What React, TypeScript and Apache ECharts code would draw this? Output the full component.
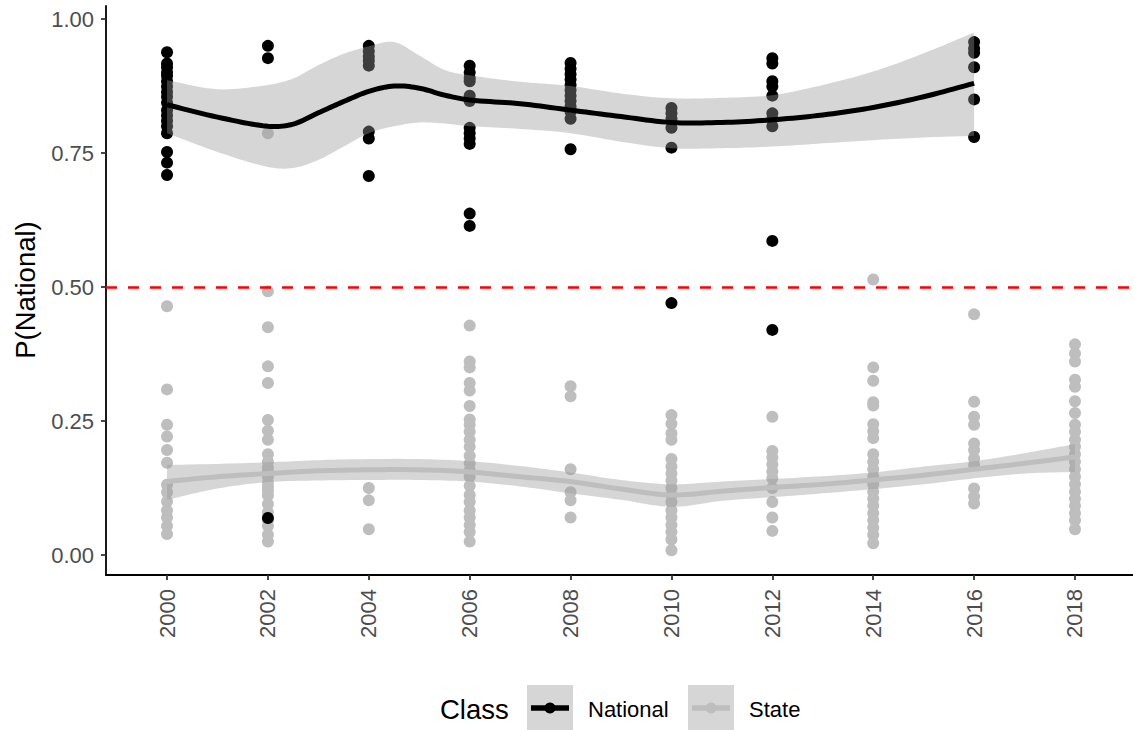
import React, { useEffect, useRef } from "react";
import * as echarts from "echarts";

const FONT = "Liberation Sans";

const years = [2000, 2002, 2004, 2006, 2008, 2010, 2012, 2014, 2016, 2018];
const yTicks = [0, 0.25, 0.5, 0.75, 1];

// National points per year (same order as years)
const nationalValues: number[][] = [
  [0.938, 0.917, 0.91, 0.9, 0.894, 0.884, 0.874, 0.864, 0.855, 0.844, 0.83, 0.82, 0.81, 0.8, 0.787, 0.752, 0.732, 0.709],
  [0.95, 0.927, 0.069],
  [0.95, 0.94, 0.93, 0.922, 0.913, 0.79, 0.777, 0.707],
  [0.913, 0.9, 0.89, 0.884, 0.857, 0.847, 0.797, 0.787, 0.777, 0.767, 0.637, 0.614],
  [0.918, 0.907, 0.897, 0.887, 0.877, 0.867, 0.857, 0.847, 0.837, 0.827, 0.814, 0.757],
  [0.834, 0.824, 0.814, 0.797, 0.76, 0.47],
  [0.927, 0.917, 0.884, 0.874, 0.857, 0.824, 0.814, 0.8, 0.586, 0.42],
  [],
  [0.957, 0.945, 0.937, 0.91, 0.85, 0.78],
  [],
];

// State points per year (same order as years)
const stateValues: number[][] = [
  [0.464, 0.309, 0.243, 0.221, 0.196, 0.172, 0.131, 0.117, 0.1, 0.083, 0.07, 0.054, 0.039],
  [0.787, 0.492, 0.425, 0.352, 0.321, 0.252, 0.232, 0.215, 0.188, 0.174, 0.163, 0.155, 0.146, 0.135, 0.127, 0.12, 0.111, 0.095, 0.08, 0.065, 0.054, 0.038, 0.025],
  [0.125, 0.102, 0.048],
  [0.428, 0.361, 0.35, 0.321, 0.307, 0.278, 0.253, 0.243, 0.23, 0.215, 0.202, 0.185, 0.171, 0.158, 0.146, 0.129, 0.112, 0.099, 0.083, 0.07, 0.056, 0.043, 0.025],
  [0.315, 0.296, 0.16, 0.117, 0.102, 0.07],
  [0.261, 0.245, 0.227, 0.215, 0.179, 0.165, 0.152, 0.139, 0.125, 0.112, 0.099, 0.083, 0.07, 0.056, 0.043, 0.029, 0.009],
  [0.258, 0.194, 0.182, 0.169, 0.156, 0.143, 0.125, 0.099, 0.07, 0.045],
  [0.514, 0.35, 0.325, 0.285, 0.279, 0.244, 0.231, 0.218, 0.188, 0.174, 0.16, 0.146, 0.132, 0.118, 0.105, 0.092, 0.078, 0.065, 0.051, 0.038, 0.022],
  [0.449, 0.286, 0.258, 0.243, 0.208, 0.196, 0.18, 0.168, 0.124, 0.109, 0.096],
  [0.393, 0.376, 0.361, 0.327, 0.314, 0.287, 0.265, 0.243, 0.23, 0.215, 0.202, 0.188, 0.174, 0.16, 0.146, 0.132, 0.118, 0.105, 0.092, 0.078, 0.065, 0.048],
];

// National loess fit and confidence band
const natX = [2000, 2001, 2002, 2002.5, 2003, 2003.5, 2004, 2004.5, 2005, 2005.5, 2006, 2007, 2008, 2009, 2010, 2011, 2012, 2013, 2014, 2015, 2016];
const natFit = [0.84, 0.817, 0.8, 0.804, 0.825, 0.846, 0.865, 0.875, 0.871, 0.858, 0.849, 0.842, 0.83, 0.818, 0.807, 0.807, 0.812, 0.821, 0.835, 0.855, 0.88];
const natHi = [0.886, 0.869, 0.877, 0.889, 0.914, 0.935, 0.949, 0.957, 0.932, 0.905, 0.895, 0.883, 0.875, 0.861, 0.852, 0.853, 0.858, 0.877, 0.902, 0.936, 0.975];
const natLo = [0.787, 0.752, 0.724, 0.722, 0.737, 0.762, 0.787, 0.8, 0.807, 0.805, 0.8, 0.795, 0.787, 0.771, 0.759, 0.759, 0.762, 0.768, 0.774, 0.779, 0.782];

// State loess fit and confidence band
const stX = [2000, 2001, 2002, 2003, 2004, 2005, 2006, 2007, 2008, 2009, 2010, 2011, 2012, 2013, 2014, 2015, 2016, 2017, 2018];
const stFit = [0.137, 0.146, 0.152, 0.157, 0.159, 0.159, 0.155, 0.146, 0.137, 0.123, 0.112, 0.119, 0.126, 0.132, 0.14, 0.149, 0.16, 0.171, 0.183];
const stHi = [0.168, 0.17, 0.173, 0.177, 0.179, 0.179, 0.175, 0.166, 0.154, 0.14, 0.132, 0.137, 0.142, 0.147, 0.154, 0.165, 0.175, 0.19, 0.207];
const stLo = [0.103, 0.124, 0.136, 0.139, 0.14, 0.14, 0.137, 0.128, 0.115, 0.103, 0.09, 0.101, 0.108, 0.115, 0.123, 0.132, 0.143, 0.152, 0.155];

const threshold = 0.5;

const BAND = "rgba(153,153,153,0.4)";
const GREY = "#BEBEBE";

function points(vals: number[][]) {
  const out: number[][] = [];
  vals.forEach((arr, i) => arr.forEach((v) => out.push([years[i], v])));
  return out;
}

// smooth curve through pixel points (cubic Hermite, parametrised by x)
function smoothPx(p: number[][]): number[][] {
  const n = p.length;
  const m: number[] = p.map((_, i) => {
    const a = p[Math.max(i - 1, 0)];
    const b = p[Math.min(i + 1, n - 1)];
    return (b[1] - a[1]) / (b[0] - a[0]);
  });
  const out: number[][] = [];
  for (let i = 0; i < n - 1; i++) {
    const [x0, y0] = p[i];
    const [x1, y1] = p[i + 1];
    const h = x1 - x0;
    const steps = 10;
    for (let k = 0; k < steps; k++) {
      const t = k / steps;
      const t2 = t * t;
      const t3 = t2 * t;
      const y =
        (2 * t3 - 3 * t2 + 1) * y0 +
        (t3 - 2 * t2 + t) * h * m[i] +
        (-2 * t3 + 3 * t2) * y1 +
        (t3 - t2) * h * m[i + 1];
      out.push([x0 + h * t, y]);
    }
  }
  out.push(p[n - 1]);
  return out;
}

function bandSeries(xs: number[], lo: number[], hi: number[]) {
  return {
    type: "custom",
    data: [[xs[0], lo[0]]],
    silent: true,
    clip: false,
    z: 3,
    renderItem: (_params: any, api: any) => {
      const up = smoothPx(xs.map((x, i) => api.coord([x, hi[i]])));
      const dn = smoothPx(xs.map((x, i) => api.coord([x, lo[i]])));
      return {
        type: "polygon",
        shape: { points: [...up, ...dn.reverse()] },
        style: { fill: BAND },
      };
    },
  };
}

function fitSeries(xs: number[], fit: number[], color: string, markLine?: any) {
  return {
    type: "custom",
    data: [[xs[0], fit[0]]],
    silent: true,
    clip: false,
    z: 4,
    renderItem: (_params: any, api: any) => {
      const pts = smoothPx(xs.map((x, i) => api.coord([x, fit[i]])));
      return {
        type: "polyline",
        shape: { points: pts },
        style: { stroke: color, lineWidth: 5, fill: "none", lineJoin: "round" },
      };
    },
    ...(markLine ? { markLine } : {}),
  };
}

export default function App() {
  const ref = useRef<HTMLDivElement>(null);
  useEffect(() => {
    document.body.style.margin = "0";
    const chart = echarts.init(ref.current!, null, { renderer: "svg" });
    const axisText = { color: "#4D4D4D", fontSize: 22, fontFamily: FONT };
    chart.setOption({
      animation: false,
      grid: { left: 106, right: 0, top: 6, bottom: 155 },
      xAxis: {
        type: "value",
        min: 1998.79,
        max: 2019.15,
        splitLine: { show: false },
        axisLine: { show: true, onZero: false, lineStyle: { color: "#000", width: 1.8 } },
        axisTick: { show: true, customValues: years, length: 5, lineStyle: { color: "#333", width: 1.8 } },
        axisLabel: { customValues: years, rotate: 90, margin: 14, ...axisText, formatter: (v: number) => String(v) },
      },
      yAxis: {
        type: "value",
        min: -0.0373,
        max: 1.0243,
        splitLine: { show: false },
        axisLine: { show: true, onZero: false, lineStyle: { color: "#000", width: 1.8 } },
        axisTick: { show: true, customValues: yTicks, length: 5, lineStyle: { color: "#333", width: 1.8 } },
        axisLabel: { customValues: yTicks, margin: 12, ...axisText, formatter: (v: number) => v.toFixed(2) },
      },
      series: [
        {
          type: "scatter",
          data: points(stateValues),
          symbolSize: 12,
          itemStyle: { color: GREY, opacity: 1 },
          z: 2,
        },
        {
          type: "scatter",
          data: points(nationalValues),
          symbolSize: 12,
          itemStyle: { color: "#000", opacity: 1 },
          z: 2,
        },
        bandSeries(natX, natLo, natHi),
        fitSeries(natX, natFit, "#000"),
        bandSeries(stX, stLo, stHi),
        fitSeries(stX, stFit, GREY, {
          silent: true,
          symbol: "none",
          label: { show: false },
          lineStyle: { color: "#FF0000", type: [11, 11], width: 2.5 },
          data: [{ yAxis: threshold }],
          z: 6,
        }),
      ],
      graphic: [
        {
          type: "text",
          x: 25,
          y: 290,
          rotation: Math.PI / 2,
          style: {
            text: "P(National)",
            fontSize: 27.5,
            fontFamily: FONT,
            fill: "#000",
            align: "center",
            verticalAlign: "middle",
            textAlign: "center",
            textVerticalAlign: "middle",
          },
        },
        {
          type: "text",
          x: 440,
          y: 709,
          style: { text: "Class", fontSize: 27.5, fontFamily: FONT, fill: "#000", verticalAlign: "middle", textVerticalAlign: "middle" },
        },
        { type: "rect", shape: { x: 527, y: 685, width: 46, height: 45 }, style: { fill: "#D6D6D6" } },
        { type: "line", shape: { x1: 531, y1: 708, x2: 569, y2: 708 }, style: { stroke: "#000", lineWidth: 5.5 } },
        { type: "circle", shape: { cx: 550, cy: 708, r: 5.5 }, style: { fill: "#000" } },
        {
          type: "text",
          x: 588,
          y: 709,
          style: { text: "National", fontSize: 22, fontFamily: FONT, fill: "#000", verticalAlign: "middle", textVerticalAlign: "middle" },
        },
        { type: "rect", shape: { x: 688, y: 685, width: 46, height: 45 }, style: { fill: "#D6D6D6" } },
        { type: "line", shape: { x1: 692, y1: 708, x2: 730, y2: 708 }, style: { stroke: GREY, lineWidth: 5.5 } },
        { type: "circle", shape: { cx: 711, cy: 708, r: 5.5 }, style: { fill: GREY } },
        {
          type: "text",
          x: 749,
          y: 709,
          style: { text: "State", fontSize: 22, fontFamily: FONT, fill: "#000", verticalAlign: "middle", textVerticalAlign: "middle" },
        },
      ],
    });
    return () => chart.dispose();
  }, []);
  return <div ref={ref} style={{ width: 1133, height: 730 }} />;
}
